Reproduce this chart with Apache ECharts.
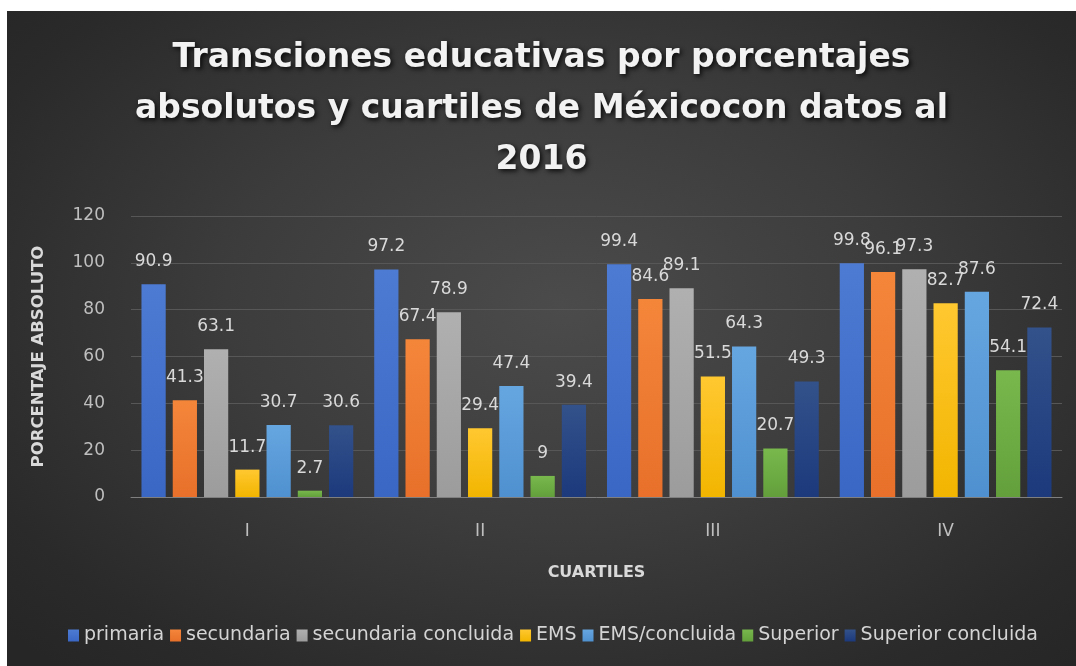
<!DOCTYPE html>
<html>
<head>
<meta charset="utf-8">
<script src="https://cdn.jsdelivr.net/npm/echarts@6/dist/echarts.min.js"></script>
<style>
  html, body { margin: 0; padding: 0; background: #ffffff; width: 1076px; height: 666px; overflow: hidden; }
  #chart {
    position: absolute; left: 7px; top: 11px; width: 1069px; height: 655px;
    background: radial-gradient(ellipse 70% 75% at 52% 45%, #4b4b4b 0%, #3c3c3c 45%, #2a2a2a 85%, #262626 100%);
  }
</style>
</head>
<body>
<div id="chart"></div>
<script>
// Quartiles of the population
const categories = ['I', 'II', 'III', 'IV'];

// Percentage of each educational transition per quartile
const seriesNames = ['primaria', 'secundaria', 'secundaria concluida', 'EMS', 'EMS/concluida', 'Superior', 'Superior concluida'];
const primaria            = [90.9, 97.2, 99.4, 99.8];
const secundaria          = [41.3, 67.4, 84.6, 96.1];
const secundariaConcluida = [63.1, 78.9, 89.1, 97.3];
const ems                 = [11.7, 29.4, 51.5, 82.7];
const emsConcluida        = [30.7, 47.4, 64.3, 87.6];
const superior            = [2.7, 9, 20.7, 54.1];
const superiorConcluida   = [30.6, 39.4, 49.3, 72.4];

const yTicks = [0, 20, 40, 60, 80, 100, 120];

const seriesValues = [primaria, secundaria, secundariaConcluida, ems, emsConcluida, superior, superiorConcluida];

// Top / bottom colours of each bar's vertical gradient
const barColors = [
  ['#4d7bd3', '#3a67c4'],
  ['#f4863a', '#e8702a'],
  ['#b0b0b0', '#9c9c9c'],
  ['#ffc830', '#f2b500'],
  ['#66a6e0', '#4f90d0'],
  ['#78b84c', '#63a03c'],
  ['#33518a', '#1c3a7c']
];

const FONT = 'DejaVu Sans';

const chart = echarts.init(document.getElementById('chart'), null, { renderer: 'canvas' });

const series = seriesNames.map((name, i) => ({
  name: name,
  type: 'bar',
  data: seriesValues[i],
  barGap: '29%',
  barCategoryGap: '9%',
  itemStyle: {
    color: new echarts.graphic.LinearGradient(0, 0, 0, 1, [
      { offset: 0, color: barColors[i][0] },
      { offset: 1, color: barColors[i][1] }
    ])
  },
  label: {
    show: true,
    position: 'top',
    distance: 14,
    color: '#d9d9d9',
    fontSize: 17,
    fontFamily: FONT
  }
}));

chart.setOption({
  backgroundColor: 'transparent',
  animation: false,
  textStyle: { fontFamily: FONT },
  title: {
    text: 'Transciones educativas por porcentajes\nabsolutos y cuartiles de Méxicocon datos al\n2016',
    left: 'center',
    top: 22,
    padding: 0,
    textStyle: {
      color: '#f2f2f2',
      fontSize: 33,
      fontWeight: 'bold',
      fontFamily: FONT,
      lineHeight: 51,
      textShadowColor: 'rgba(0,0,0,0.85)',
      textShadowBlur: 5,
      textShadowOffsetX: 2,
      textShadowOffsetY: 2
    }
  },
  legend: {
    bottom: 21,
    left: 61,
    padding: 0,
    itemWidth: 11,
    itemHeight: 12,
    itemGap: 6,
    icon: 'rect',
    textStyle: { color: '#d4d4d4', fontSize: 19, fontFamily: FONT },
    data: seriesNames
  },
  grid: {
    left: 124,
    right: 14,
    top: 205,
    bottom: 169
  },
  xAxis: {
    type: 'category',
    data: categories,
    name: 'CUARTILES',
    nameLocation: 'middle',
    nameGap: 68,
    nameTextStyle: { color: '#d9d9d9', fontSize: 16, fontWeight: 'bold' },
    axisLine: { show: true, lineStyle: { color: '#7f7f7f', width: 1 } },
    axisTick: { show: false },
    axisLabel: { color: '#bfbfbf', fontSize: 17, margin: 26 }
  },
  yAxis: {
    type: 'value',
    min: yTicks[0],
    max: yTicks[yTicks.length - 1],
    interval: yTicks[1] - yTicks[0],
    name: 'PORCENTAJE ABSOLUTO',
    nameLocation: 'middle',
    nameRotate: 90,
    nameGap: 84,
    nameTextStyle: { color: '#d9d9d9', fontSize: 16.5, fontWeight: 'bold' },
    axisLine: { show: false },
    axisTick: { show: false },
    axisLabel: { color: '#bfbfbf', fontSize: 17, margin: 26 },
    splitLine: { show: true, lineStyle: { color: '#575757', width: 1 } }
  },
  series: series
});
</script>
</body>
</html>
